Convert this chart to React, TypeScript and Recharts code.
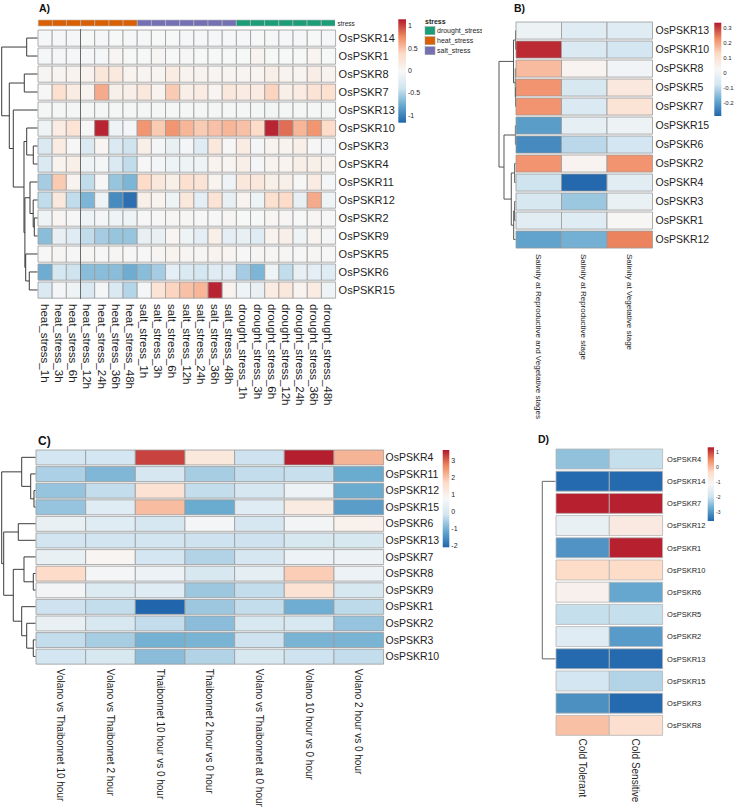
import React from "react";
import { BarChart, Bar, XAxis, YAxis, Cell, ScatterChart, Scatter, ReferenceLine } from "recharts";

// ---- panel A : heat / salt / drought time course ----
const aGenes = ["OsPSKR14", "OsPSKR1", "OsPSKR8", "OsPSKR7", "OsPSKR13", "OsPSKR10", "OsPSKR3", "OsPSKR4", "OsPSKR11", "OsPSKR12", "OsPSKR2", "OsPSKR9", "OsPSKR5", "OsPSKR6", "OsPSKR15"];
const aConditions = [
  "heat_stress_1h", "heat_stress_3h", "heat_stress_6h", "heat_stress_12h", "heat_stress_24h", "heat_stress_36h", "heat_stress_48h",
  "salt_stress_1h", "salt_stress_3h", "salt_stress_6h", "salt_stress_12h", "salt_stress_24h", "salt_stress_36h", "salt_stress_48h",
  "drought_stress_1h", "drought_stress_3h", "drought_stress_6h", "drought_stress_12h", "drought_stress_24h", "drought_stress_36h", "drought_stress_48h",
];
const aStress = [
  "heat_stress", "heat_stress", "heat_stress", "heat_stress", "heat_stress", "heat_stress", "heat_stress",
  "salt_stress", "salt_stress", "salt_stress", "salt_stress", "salt_stress", "salt_stress", "salt_stress",
  "drought_stress", "drought_stress", "drought_stress", "drought_stress", "drought_stress", "drought_stress", "drought_stress",
];
const aValues = [
  [-0.03, -0.03, -0.03, -0.02, -0.03, -0.02, -0.03, -0.03, -0.02, -0.02, -0.03, -0.03, -0.03, -0.03, -0.03, -0.02, -0.03, -0.03, -0.03, -0.02, -0.03],
  [-0.03, -0.03, -0.03, -0.03, -0.03, 0.02, -0.02, -0.02, 0.02, -0.02, 0.0, -0.02, -0.02, -0.02, -0.02, 0.05, -0.02, -0.02, -0.02, 0.03, -0.02],
  [0.02, 0.03, 0.05, 0.05, 0.22, 0.18, 0.05, 0.03, 0.03, 0.15, 0.05, 0.05, 0.03, 0.03, 0.03, 0.03, 0.1, 0.05, 0.03, 0.12, 0.05],
  [0.0, 0.3, 0.15, 0.05, 0.6, 0.1, 0.1, 0.2, 0.05, 0.45, 0.1, 0.15, 0.03, 0.2, 0.15, 0.15, 0.4, 0.1, 0.15, 0.25, 0.3],
  [-0.04, -0.04, -0.04, -0.04, -0.04, -0.04, -0.04, -0.04, -0.04, -0.04, -0.04, -0.04, -0.04, -0.04, -0.04, -0.04, -0.06, -0.04, -0.04, -0.04, -0.04],
  [-0.1, 0.15, 0.25, 0.0, 1.1, -0.1, -0.05, 0.7, 0.45, 0.7, 0.55, 0.45, 0.5, 0.55, 0.5, 0.35, 1.1, 0.85, 0.55, 0.7, 0.35],
  [-0.3, 0.15, 0.0, -0.3, 0.03, -0.3, -0.4, 0.1, -0.05, -0.15, -0.05, -0.25, 0.2, 0.0, 0.15, -0.05, 0.05, 0.05, 0.1, 0.0, -0.05],
  [-0.3, 0.05, 0.1, -0.1, -0.05, -0.3, -0.45, 0.0, -0.05, -0.1, -0.1, -0.1, 0.05, 0.03, 0.1, -0.05, 0.05, 0.05, 0.1, 0.1, 0.05],
  [-0.55, 0.45, 0.05, -0.45, 0.0, -0.6, -0.7, 0.35, 0.2, 0.1, 0.3, 0.25, 0.05, -0.1, 0.2, 0.2, 0.1, 0.1, 0.0, 0.15, -0.05],
  [-0.45, 0.2, -0.45, -0.7, -0.1, -0.95, -1.1, 0.1, 0.05, -0.1, 0.2, -0.2, 0.25, -0.15, 0.05, -0.1, 0.3, 0.35, -0.15, 0.6, -0.1],
  [-0.1, 0.03, 0.0, -0.1, -0.05, -0.1, -0.1, 0.0, 0.0, 0.02, 0.02, 0.0, 0.0, 0.02, -0.02, -0.02, 0.03, 0.02, -0.02, 0.02, 0.0],
  [-0.65, -0.15, -0.25, -0.45, -0.55, -0.6, -0.6, -0.15, -0.15, 0.03, -0.1, -0.2, 0.1, -0.2, -0.15, -0.25, 0.05, 0.1, -0.1, 0.05, -0.05],
  [0.0, 0.02, 0.0, 0.02, 0.0, 0.02, 0.0, 0.0, 0.02, 0.05, 0.02, 0.02, 0.05, 0.03, 0.0, 0.02, 0.02, 0.02, 0.0, 0.02, 0.0],
  [-0.75, -0.35, -0.4, -0.65, -0.65, -0.65, -0.75, -0.65, -0.55, -0.2, -0.3, -0.35, -0.25, -0.25, -0.55, -0.7, -0.1, -0.45, -0.15, -0.2, -0.25],
  [-0.3, -0.05, -0.1, -0.3, -0.05, -0.3, -0.5, -0.05, 0.25, 0.4, 0.5, 0.55, 1.1, 0.05, -0.1, -0.15, 0.15, 0.2, 0.05, 0.15, -0.1],
];
// hclust style merge table: negative = leaf row, positive = earlier merge
const aMerge = [[-1, -2], [-3, -4], [-7, -8], [-6, 3], [-11, -12], [-10, 5], [-9, 6], [-14, -15], [-13, 8], [7, 9], [4, 10], [-5, 11], [2, 12], [1, 13]];
const aHeight = [11, 13.4, 4.4, 11, 3.4, 4.5, 7.7, 8.4, 12, 12.8, 13.7, 24.4, 28.4, 36];
const aScale = [-1.16, 1.14];
const aTicks = [1, 0.5, 0, -0.5, -1];

// ---- panel B : salinity ----
const bGenes = ["OsPSKR13", "OsPSKR10", "OsPSKR8", "OsPSKR5", "OsPSKR7", "OsPSKR15", "OsPSKR6", "OsPSKR2", "OsPSKR4", "OsPSKR3", "OsPSKR1", "OsPSKR12"];
const bConditions = ["Salinity at Reproductive and Vegetative stages", "Salinity at Reproductive stage", "Salinity at Vegetative stage"];
const bValues = [
  [0.0, -0.04, -0.04],
  [0.32, -0.05, -0.07],
  [0.17, 0.04, 0.01],
  [0.22, -0.06, 0.08],
  [0.22, -0.05, 0.1],
  [-0.2, -0.02, 0.0],
  [-0.23, -0.1, -0.07],
  [0.22, 0.04, 0.22],
  [-0.08, -0.28, -0.03],
  [-0.06, -0.13, -0.01],
  [-0.03, -0.04, 0.03],
  [-0.19, -0.17, 0.24],
];
const bMerge = [[-1, -2], [-4, -5], [-3, 2], [1, 3], [-6, -7], [-8, -9], [-10, -11], [7, -12], [6, 8], [5, 9], [4, 10]];
const bHeight = [0.2, 0.2, 0.4, 2.2, 0.3, 1, 1, 2, 4.4, 11.7, 16.7];
const bScale = [-0.285, 0.337];
const bTicks = [0.3, 0.2, 0.1, 0, -0.1, -0.2];

// ---- panel C : Volano / Thaibonnet ----
const cGenes = ["OsPSKR4", "OsPSKR11", "OsPSKR12", "OsPSKR15", "OsPSKR6", "OsPSKR13", "OsPSKR7", "OsPSKR8", "OsPSKR9", "OsPSKR1", "OsPSKR2", "OsPSKR3", "OsPSKR10"];
const cConditions = [
  "Volano vs Thaibonnet 10 hour", "Volano vs Thaibonnet 2 hour", "Thaibonnet 10 hour vs 0 hour", "Thaibonnet 2 hour vs 0 hour",
  "Volano vs Thaibonnet at 0 hour", "Volano 10 hour vs 0 hour", "Volano 2 hour vs 0 hour",
];
const cValues = [
  [-0.1, -0.1, 3.3, 1.3, -0.2, 3.6, 2.2],
  [-0.5, -0.9, -0.05, -0.55, -0.3, -0.25, -1.1],
  [-0.7, -0.3, 1.5, -0.3, -0.05, 0.5, -1.1],
  [-0.7, 0.2, 2.1, -1.1, 0.2, 1.2, -1.3],
  [0.4, 0.2, -0.05, 0.7, -0.05, 0.65, 1.0],
  [-0.15, -0.15, -0.15, -0.2, -0.2, 0.0, 0.0],
  [0.4, 0.9, -0.1, -0.45, -0.05, 0.5, 0.5],
  [1.7, 0.7, 0.5, 0.0, 0.3, 1.9, 0.5],
  [0.65, 0.1, 0.2, -0.65, -0.3, 1.5, 0.0],
  [-0.2, -0.3, -2.1, -0.65, -0.3, -1.05, -0.35],
  [0.4, 0.0, -0.3, -0.8, 0.0, 0.0, -0.7],
  [-0.3, -0.55, -1.0, -0.95, -0.2, -0.95, -0.95],
  [-0.1, 0.0, -0.8, -0.45, 0.0, -0.2, -0.3],
];
const cMerge = [[-3, -4], [-2, 1], [-1, 2], [-5, -6], [-8, -9], [-7, 5], [-12, -13], [-11, 7], [-10, 8], [6, 9], [4, 10], [3, 11]];
const cHeight = [1.7, 5, 14, 17.4, 2.4, 11.7, 2.4, 9, 14, 22.4, 32, 34];
const cScale = [-2.08, 3.65];
const cTicks = [3, 2, 1, 0, -1, -2];

// ---- panel D : cold ----
const dGenes = ["OsPSKR4", "OsPSKR14", "OsPSKR7", "OsPSKR12", "OsPSKR1", "OsPSKR10", "OsPSKR6", "OsPSKR5", "OsPSKR2", "OsPSKR13", "OsPSKR15", "OsPSKR3", "OsPSKR8"];
const dConditions = ["Cold Tolerant", "Cold Sensitive"];
const dValues = [
  [-2.4, -2.0],
  [-3.5, -3.5],
  [1.3, 1.3],
  [-1.4, -0.7],
  [-3.0, 1.3],
  [-0.3, -0.3],
  [-0.9, -2.75],
  [-2.0, -2.0],
  [-1.6, -2.9],
  [-3.5, -3.5],
  [-1.85, -2.15],
  [-3.05, -3.5],
  [0.0, -0.4],
];
const dMerge = [[-2, -10]];
const dHeight = [13.4];
const dScale = [-3.55, 1.36];
const dTicks = [1, 0, -1, -2, -3];

const stressColors: Record<string, string> = {
  drought_stress: "#1B9E77",
  heat_stress: "#D95F02",
  salt_stress: "#7570B3",
};
const stressLegend = ["drought_stress", "heat_stress", "salt_stress"];

const PAL = ["#2166AC", "#67A9CF", "#D1E5F0", "#F7F7F7", "#FDDBC7", "#EF8A62", "#B2182B"];

function rgb(h: string) {
  return [1, 3, 5].map((k) => parseInt(h.slice(k, k + 2), 16));
}

function heatColor(v: number, scale: number[]) {
  let t = (v - scale[0]) / (scale[1] - scale[0]);
  t = Math.max(0, Math.min(1, t));
  const s = t * (PAL.length - 1);
  const i = Math.min(PAL.length - 2, Math.floor(s));
  const f = s - i;
  const a = rgb(PAL[i]);
  const b = rgb(PAL[i + 1]);
  const c = a.map((x, k) => Math.round(x + (b[k] - x) * f));
  return `rgb(${c[0]},${c[1]},${c[2]})`;
}

const TXT = "#1e1e1e";

interface HeatProps {
  x: number;
  y: number;
  w: number;
  rowH: number;
  rows: string[];
  cols: string[];
  colorAt: (i: number, j: number) => string;
  labelW?: number;
  labelSize?: number;
  labelGap?: number;
  colH?: number;
  colSize?: number;
  colGap?: number;
  stroke?: string;
  strokeWidth?: number;
  splitAt?: number;
}

function Heatmap(p: HeatProps) {
  const { x, y, w, rowH, rows, cols, colorAt } = p;
  const labelW = p.labelW ?? 0;
  const colH = p.colH ?? 0;
  const h = rowH * rows.length;
  const data = rows.map((g) => {
    const o: any = { gene: g };
    cols.forEach((_, j) => (o["c" + j] = 1));
    return o;
  });
  const centers = cols.map((_, j) => j + 0.5);
  const colTick = (t: any) => {
    const j = Math.floor(t.payload.value);
    return (
      <text
        x={t.x}
        y={t.y}
        transform={`rotate(90 ${t.x} ${t.y})`}
        dy="0.36em"
        fontSize={p.colSize}
        fill={TXT}
        textAnchor="start"
      >
        {cols[j]}
      </text>
    );
  };
  return (
    <div style={{ position: "absolute", left: x - 1, top: y - 1 }}>
      <BarChart
        width={w + labelW + 1}
        height={h + colH + 1}
        data={data}
        layout="vertical"
        margin={{ top: 1, right: 0, bottom: 0, left: 1 }}
        barCategoryGap={0}
        barGap={0}
      >
        <XAxis
          type="number"
          domain={[0, cols.length]}
          ticks={centers}
          interval={0}
          axisLine={false}
          tickLine={false}
          tickSize={0}
          tickMargin={p.colGap ?? 0}
          height={colH}
          hide={colH === 0}
          tick={colTick}
        />
        <YAxis
          type="category"
          dataKey="gene"
          orientation="right"
          width={labelW}
          hide={labelW === 0}
          interval={0}
          axisLine={false}
          tickLine={false}
          tickSize={0}
          tickMargin={p.labelGap ?? 0}
          tick={{ fontSize: p.labelSize, fill: TXT }}
        />
        {cols.map((_, j) => (
          <Bar key={j} dataKey={"c" + j} stackId="s" barSize={rowH} isAnimationActive={false}>
            {rows.map((_, i) => (
              <Cell key={i} fill={colorAt(i, j)} stroke={p.stroke ?? "#9a9a9a"} strokeWidth={p.strokeWidth ?? 0.8} />
            ))}
          </Bar>
        ))}
        {p.splitAt !== undefined && <ReferenceLine x={p.splitAt} stroke="#6a6a6a" strokeWidth={1} />}
      </BarChart>
    </div>
  );
}

function elbows(merge: number[][], height: number[]) {
  const nodes: { y: number; h: number }[] = [];
  const get = (k: number) => (k < 0 ? { y: -k - 0.5, h: 0 } : nodes[k - 1]);
  return merge.map(([a, b], m) => {
    const A = get(a);
    const B = get(b);
    const h = height[m];
    nodes.push({ y: (A.y + B.y) / 2, h });
    return [
      { x: A.h, y: A.y },
      { x: h, y: A.y },
      { x: h, y: B.y },
      { x: B.h, y: B.y },
    ];
  });
}

function Dendrogram({ x, y, w, h, n, merge, height, color = "#444" }: any) {
  const segs = elbows(merge, height);
  return (
    <div style={{ position: "absolute", left: x, top: y }}>
      <ScatterChart width={w} height={h} margin={{ top: 0, right: 0, bottom: 0, left: 0 }}>
        <XAxis type="number" dataKey="x" domain={[0, w]} reversed hide allowDataOverflow />
        <YAxis type="number" dataKey="y" domain={[0, n]} reversed hide allowDataOverflow />
        {segs.map((pts, k) => (
          <Scatter
            key={k}
            data={pts}
            line={{ stroke: color, strokeWidth: 1 }}
            shape={() => <g />}
            isAnimationActive={false}
          />
        ))}
      </ScatterChart>
    </div>
  );
}

function ColorBar({ x, y, w, h, scale, ticks, size, id }: any) {
  const yOf = (v: number) => y + ((scale[1] - v) / (scale[1] - scale[0])) * h;
  return (
    <g>
      <defs>
        <linearGradient id={id} x1="0" y1="0" x2="0" y2="1">
          {PAL.slice()
            .reverse()
            .map((c, k) => (
              <stop key={k} offset={k / (PAL.length - 1)} stopColor={c} />
            ))}
        </linearGradient>
      </defs>
      <rect x={x} y={y} width={w} height={h} fill={`url(#${id})`} />
      {ticks.map((t: number) => (
        <text key={t} x={x + w + 2} y={yOf(t)} dy="0.35em" fontSize={size} fill={TXT}>
          {t}
        </text>
      ))}
    </g>
  );
}

export default function App() {
  return (
    <div
      style={{
        position: "absolute",
        left: 0,
        top: 0,
        width: 738,
        height: 812,
        overflow: "hidden",
        background: "#fff",
        fontFamily: "'Liberation Sans', Arial, sans-serif",
      }}
    >
      {/* A */}
      <Heatmap
        x={37.7}
        y={20}
        w={297.6}
        rowH={6.7}
        rows={["stress"]}
        cols={aConditions}
        colorAt={(_, j) => stressColors[aStress[j]]}
        stroke="#bbb"
        strokeWidth={0.6}
      />
      <Heatmap
        x={37.7}
        y={29.3}
        w={297.6}
        rowH={18}
        rows={aGenes}
        cols={aConditions}
        colorAt={(i, j) => heatColor(aValues[i][j], aScale)}
        labelW={64}
        labelSize={11}
        labelGap={3}
        colH={112}
        colSize={11.5}
        colGap={5}
        splitAt={3}
      />
      <Dendrogram x={0} y={29.3} w={37.7} h={270} n={aGenes.length} merge={aMerge} height={aHeight} color="#3a3a3a" />

      {/* B */}
      <Heatmap
        x={515.7}
        y={20.7}
        w={136.5}
        rowH={19}
        rows={bGenes}
        cols={bConditions}
        colorAt={(i, j) => heatColor(bValues[i][j], bScale)}
        labelW={60}
        labelSize={10.5}
        labelGap={3}
        colH={180}
        colSize={8}
        colGap={5}
      />
      <Dendrogram x={488} y={20.7} w={27.7} h={228} n={bGenes.length} merge={bMerge} height={bHeight} color="#555" />

      {/* C */}
      <Heatmap
        x={35.7}
        y={449}
        w={347.6}
        rowH={16.6}
        rows={cGenes}
        cols={cConditions}
        colorAt={(i, j) => heatColor(cValues[i][j], cScale)}
        labelW={58}
        labelSize={10.5}
        labelGap={2}
        colH={150}
        colSize={10}
        colGap={4}
      />
      <Dendrogram x={0} y={449} w={35.7} h={215.8} n={cGenes.length} merge={cMerge} height={cHeight} color="#3a3a3a" />

      {/* D */}
      <Heatmap
        x={555.7}
        y={448.3}
        w={106.6}
        rowH={22.2}
        rows={dGenes}
        cols={dConditions}
        colorAt={(i, j) => heatColor(dValues[i][j], dScale)}
        labelW={45}
        labelSize={7.5}
        labelGap={4.5}
        colH={70}
        colSize={10}
        colGap={2}
        stroke="#b5b5b5"
      />
      <Dendrogram x={530} y={448.3} w={25.7} h={288.6} n={dGenes.length} merge={dMerge} height={dHeight} color="#666" />

      <svg width={738} height={812} style={{ position: "absolute", left: 0, top: 0, pointerEvents: "none" }}>
        <text x={39} y={11.5} fontSize={10.5} fontWeight="bold" fill="#111">A)</text>
        <text x={514} y={12} fontSize={10.5} fontWeight="bold" fill="#111">B)</text>
        <text x={38} y={444.5} fontSize={12} fontWeight="bold" fill="#111">C)</text>
        <text x={538} y={443} fontSize={10.5} fontWeight="bold" fill="#111">D)</text>

        <text x={337.5} y={25.5} fontSize={6.5} fill={TXT}>stress</text>
        <ColorBar id="cbA" x={398.3} y={19.3} w={7.7} h={103.4} scale={aScale} ticks={aTicks} size={7} />
        <defs>
          <clipPath id="legClip">
            <rect x={420} y={10} width={62} height={60} />
          </clipPath>
        </defs>
        <g clipPath="url(#legClip)">
          <text x={425} y={23.5} fontSize={7} fontWeight="bold" fill={TXT}>stress</text>
          {stressLegend.map((s, k) => (
            <g key={s}>
              <rect x={425} y={26.7 + k * 10} width={10} height={8} fill={stressColors[s]} stroke="#999" strokeWidth={0.5} />
              <text x={437} y={30.7 + k * 10} dy="0.35em" fontSize={7} fill={TXT}>{s}</text>
            </g>
          ))}
        </g>

        <ColorBar id="cbB" x={714.3} y={22.7} w={7} h={93.3} scale={bScale} ticks={bTicks} size={6} />
        <ColorBar id="cbC" x={442.7} y={450} w={6.6} h={97.3} scale={cScale} ticks={cTicks} size={7} />
        <ColorBar id="cbD" x={707.7} y={447.3} w={6.3} h={73.7} scale={dScale} ticks={dTicks} size={5} />
      </svg>
    </div>
  );
}
